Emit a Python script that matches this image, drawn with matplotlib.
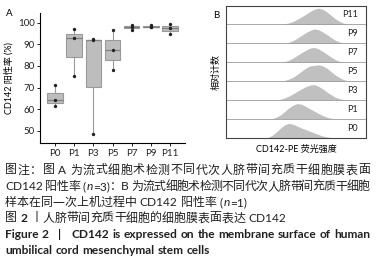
import numpy as np
import matplotlib
matplotlib.use('Agg')
import matplotlib.pyplot as plt

plt.rcParams['font.family'] = ['Lato', 'Noto Sans CJK SC', 'DejaVu Sans']

# -------- panel A: CD142 positive rate (n=3) --------
passages = ['P0', 'P1', 'P3', 'P5', 'P7', 'P9', 'P11']
rate_p0 = [61.5, 64.3, 71.0]
rate_p1 = [75.5, 93.0, 97.0]
rate_p3 = [48.5, 91.8, 92.5]
rate_p5 = [78.0, 87.3, 96.5]
rate_p7 = [96.8, 98.0, 99.0]
rate_p9 = [97.8, 98.2, 98.8]
rate_p11 = [95.0, 97.5, 99.3]
rates = [rate_p0, rate_p1, rate_p3, rate_p5, rate_p7, rate_p9, rate_p11]

# -------- panel B: flow histograms (relative counts) --------
hist_labels = ['P0', 'P1', 'P3', 'P5', 'P7', 'P9', 'P11']
fluor = [30, 33, 36, 39, 42, 45, 48, 51, 54, 57, 60, 63, 66, 69, 72, 75, 78, 81, 84, 87, 90]
cnt_p0 = [0.0, 0.12, 0.30, 0.50, 0.68, 0.75, 0.70, 0.60, 0.50, 0.42, 0.33, 0.25, 0.16, 0.08, 0.03, 0.0, 0, 0, 0, 0, 0]
cnt_p1 = [0, 0.0, 0.08, 0.20, 0.38, 0.58, 0.72, 0.80, 0.76, 0.65, 0.52, 0.40, 0.28, 0.17, 0.08, 0.02, 0, 0, 0, 0, 0]
cnt_p3 = [0, 0, 0, 0.03, 0.10, 0.20, 0.32, 0.45, 0.58, 0.70, 0.78, 0.80, 0.72, 0.58, 0.42, 0.27, 0.14, 0.06, 0.01, 0, 0]
cnt_p5 = [0, 0, 0, 0, 0.03, 0.10, 0.20, 0.35, 0.52, 0.68, 0.80, 0.82, 0.85, 0.80, 0.68, 0.50, 0.32, 0.18, 0.07, 0.01, 0]
cnt_p7 = [0, 0, 0, 0, 0.03, 0.10, 0.22, 0.36, 0.50, 0.63, 0.74, 0.78, 0.70, 0.57, 0.42, 0.27, 0.13, 0.04, 0, 0, 0]
cnt_p9 = [0, 0, 0, 0, 0, 0.05, 0.14, 0.27, 0.42, 0.56, 0.68, 0.76, 0.72, 0.60, 0.46, 0.30, 0.16, 0.06, 0.01, 0, 0]
cnt_p11 = [0, 0, 0, 0, 0.03, 0.08, 0.16, 0.27, 0.40, 0.54, 0.68, 0.80, 0.86, 0.80, 0.66, 0.48, 0.30, 0.16, 0.06, 0.01, 0]
counts = [cnt_p0, cnt_p1, cnt_p3, cnt_p5, cnt_p7, cnt_p9, cnt_p11]

# caption: (segments, justified?)  segment style: 'n' normal, 'i' italic, 'b' bold
caption = [
    ([('图注：图 A 为流式细胞术检测不同代次人脐带间充质干细胞膜表面', 'n')], True),
    ([('CD142 阳性率 (', 'n'), ('n', 'i'), ('=3)：B 为流式细胞术检测不同代次人脐带间充质干细胞', 'n')], True),
    ([('样本在同一次上机过程中 CD142 阳性率 (', 'n'), ('n', 'i'), ('=1)', 'n')], False),
    ([('图 ', 'n'), ('2', 'b'), (' 丨人脐带间充质干细胞的细胞膜表面表达 CD142', 'n')], False),
    ([('Figure 2   |   CD142 is expressed on the membrane surface of human', 'b')], True),
    ([('umbilical cord mesenchymal stem cells', 'b')], False),
]
caption_y = [170, 186.5, 202.5, 218, 234, 250]

STYLES = {'n': {}, 'i': {'style': 'italic'}, 'b': {'weight': 'bold'}}


def is_cjk(ch):
    return ord(ch) >= 0x2E80


def tokenize(segments):
    toks = []
    buf, bkw, bnd = '', None, None
    pending = ('start', 0)
    for text, st in segments:
        for ch in text:
            if ch == ' ':
                if buf:
                    toks.append((buf, bkw, bnd, False))
                    buf = ''
                n = pending[1] + 1 if pending and pending[0] == 'space' else 1
                pending = ('space', n)
            elif is_cjk(ch):
                if buf:
                    toks.append((buf, bkw, bnd, False))
                    buf = ''
                toks.append((ch, st, pending if pending else ('cjk', 0), True))
                pending = ('cjk', 0)
            else:
                if buf and bkw != st:
                    toks.append((buf, bkw, bnd, False))
                    buf = ''
                if not buf:
                    bnd = pending if pending else ('none', 0)
                    bkw = st
                buf += ch
                pending = None
    if buf:
        toks.append((buf, bkw, bnd, False))
    return toks


def draw_line(fig, renderer, y, segments, x0, x1, justify, fs, color):
    W = fig.get_figwidth() * fig.dpi
    em = fs * fig.dpi / 72.0
    sw = 0.27 * em
    toks = tokenize(segments)
    items = []
    for text, st, bnd, cjk in toks:
        t = fig.text(0, y, text, fontsize=fs, va='center', ha='left', color=color,
                     **STYLES[st])
        ink = t.get_window_extent(renderer).width
        items.append((t, ink, bnd, cjk))
    natural = 0.0
    n_adj = 0
    for i, (t, ink, bnd, cjk) in enumerate(items):
        kind, n = bnd
        if kind == 'space':
            natural += sw * n
            n_adj += n
        elif kind == 'cjk':
            n_adj += 1
        elif kind == 'none':
            natural += 0.05 * em
        natural += em if cjk else ink
    extra = 0.0
    if justify and n_adj:
        extra = ((x1 - x0) - natural) / n_adj
    x = x0
    for t, ink, bnd, cjk in items:
        kind, n = bnd
        if kind == 'space':
            x += (sw + extra) * n
        elif kind == 'cjk':
            x += extra
        elif kind == 'none':
            x += 0.05 * em
        if cjk:
            t.set_x((x + (em - ink) / 2) / W)
            x += em
        else:
            t.set_x(x / W)
            x += ink


def main():
    fig = plt.figure(figsize=(3.76, 2.62), dpi=100)
    W, H = 376, 262

    # ---- A ----
    ax = fig.add_axes([40 / W, 1 - 143 / H, 145 / W, 130 / H])
    pos = np.arange(len(passages))
    ax.boxplot(rates, positions=pos, widths=0.8, patch_artist=True, whis=(0, 100),
               showcaps=False, showfliers=False,
               boxprops=dict(facecolor='#bdbdbd', edgecolor='#9a9a9a', linewidth=0.8),
               medianprops=dict(color='#808080', linewidth=0.9),
               whiskerprops=dict(color='#9a9a9a', linewidth=0.8))
    for p, vals in zip(pos, rates):
        ax.scatter([p] * len(vals), vals, s=2, color='#222222', zorder=3)
    ax.set_xlim(-0.78, 6.78)
    ax.set_ylim(44.3, 104.5)
    ax.set_yticks([50, 60, 70, 80, 90, 100])
    ax.set_xticks(pos)
    ax.set_xticklabels(passages)
    ax.tick_params(labelsize=7, length=2, width=0.6, pad=2, labelcolor='#222222')
    for s in ['top', 'right']:
        ax.spines[s].set_visible(False)
    for s in ['left', 'bottom']:
        ax.spines[s].set_linewidth(0.8)
    ax.set_ylabel('CD142 阳性率 (%)', fontsize=6.5, labelpad=3)
    fig.text(6 / W, 1 - 13 / H, 'A', fontsize=7, va='center')

    # ---- B ----
    bx = fig.add_axes([226 / W, 1 - 137.5 / H, 140 / W, 132 / H])
    for i, c in enumerate(counts):
        bx.fill_between(fluor, i, i + np.array(c), color='#c0c0c0', linewidth=0)
        bx.text(94, i + 0.5, hist_labels[i], ha='right', va='center', fontsize=6.5,
                color='#222222')
    for i in range(1, len(counts)):
        bx.axhline(i, color='#9a9a9a', linewidth=0.6)
    bx.set_xlim(0, 100)
    bx.set_ylim(0, len(counts))
    bx.set_xticks([])
    bx.set_yticks([])
    for s in bx.spines.values():
        s.set_linewidth(0.8)
        s.set_color('#444444')
    bx.set_ylabel('相对计数', fontsize=6.5, labelpad=4)
    bx.set_xlabel('CD142-PE 荧光强度', fontsize=6.5, labelpad=5)
    fig.text(213 / W, 1 - 15 / H, 'B', fontsize=7, va='center')

    # ---- caption ----
    renderer = fig.canvas.get_renderer()
    for y, (segs, just) in zip(caption_y, caption):
        draw_line(fig, renderer, 1 - y / H, segs, 5, 370, just, 8.6, '#231f20')

    fig.savefig('out.png', dpi=100)


if __name__ == '__main__':
    main()
